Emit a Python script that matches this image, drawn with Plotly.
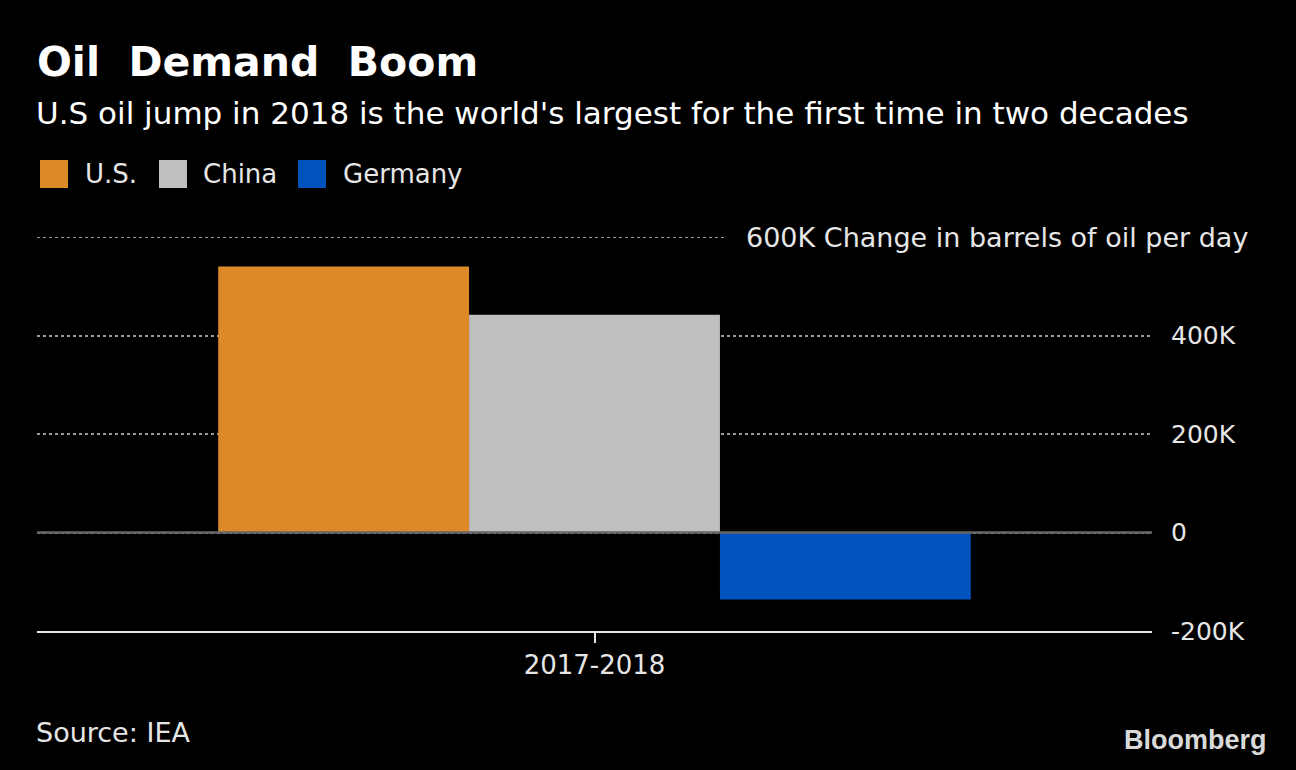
import plotly.graph_objects as go

# ---- data ----
categories = ["2017-2018"]
series_names = ["U.S.", "China", "Germany"]
series_values = [[540000], [442000], [-136000]]
series_colors = ["#dc8a27", "#bfbfbf", "#0052bd"]
tick_vals = [-200000, 0, 200000, 400000]
tick_text = ["-200K", "0", "200K", "400K"]
top_tick_label = "600K Change in barrels of oil per day"
title = "Oil Demand Boom"
subtitle = "U.S oil jump in 2018 is the world's largest for the first time in two decades"
source = "Source: IEA"

W, H = 1296, 770
ML, MR, MT, MB = 37, 144, 237, 139
PW = W - ML - MR
PH = H - MT - MB


def px(x):
    return (x - ML) / PW


def py(y):
    return (H - MB - y) / PH


FONT = "DejaVu Sans"
TXT = "#e6e6e6"
GRID = "#9a9a9a"

fig = go.Figure()
for name, vals, col in zip(series_names, series_values, series_colors):
    fig.add_trace(go.Bar(x=categories, y=vals, name=name, marker=dict(color=col, line=dict(width=0)),
                         showlegend=False))

annotations = [
    dict(text=f"<b>{title.replace(' ', '&nbsp; ')}</b>", x=px(35), y=py(62), xref="paper", yref="paper",
         xanchor="left", yanchor="middle", showarrow=False, font=dict(family=FONT, size=41, color="white")),
    dict(text=subtitle, x=px(34), y=py(113), xref="paper", yref="paper", xanchor="left",
         yanchor="middle", showarrow=False, font=dict(family=FONT, size=31, color="white")),
    dict(text=source, x=px(34), y=py(732), xref="paper", yref="paper", xanchor="left",
         yanchor="middle", showarrow=False, font=dict(family=FONT, size=27, color=TXT)),
    dict(text="<b>Bloomberg</b>", x=px(1269), y=py(740), xref="paper", yref="paper", xanchor="right",
         yanchor="middle", showarrow=False, font=dict(family="Liberation Sans", size=27, color="#d9d9d9")),
    dict(text=top_tick_label, x=px(1250), y=600000, xref="paper", yref="y", xanchor="right",
         yanchor="middle", showarrow=False, font=dict(family=FONT, size=27, color=TXT)),
]

shapes = []
# legend
leg_sq_x = [40, 159, 298]
leg_tx_x = [83, 201, 341]
for name, col, sx, tx in zip(series_names, series_colors, leg_sq_x, leg_tx_x):
    shapes.append(dict(type="rect", xref="paper", yref="paper", x0=px(sx), x1=px(sx + 28),
                       y0=py(160), y1=py(188), fillcolor=col, line=dict(width=0)))
    annotations.append(dict(text=name, x=px(tx), y=py(174), xref="paper", yref="paper", xanchor="left",
                            yanchor="middle", showarrow=False, font=dict(family=FONT, size=26, color=TXT)))

# top gridline (shortened)
shapes.append(dict(type="line", xref="paper", yref="y", x0=0, x1=px(725), y0=600000, y1=600000,
                   line=dict(color=GRID, width=2, dash="dot"), layer="below"))
# zero line above bars
shapes.append(dict(type="line", xref="paper", yref="y", x0=0, x1=1, y0=0, y1=0,
                   line=dict(color="#666666", width=2.5), layer="above"))

fig.update_layout(
    width=W, height=H,
    paper_bgcolor="black", plot_bgcolor="black",
    margin=dict(l=ML, r=MR, t=MT, b=MB),
    barmode="group", bargap=0.325, bargroupgap=0,
    annotations=annotations, shapes=shapes,
    showlegend=False,
    xaxis=dict(showgrid=False, showline=True, linecolor="#e6e6e6", linewidth=2,
               ticks="outside", ticklen=10, tickcolor="#e6e6e6", tickwidth=1.5,
               tickfont=dict(family=FONT, size=26, color=TXT), zeroline=False, fixedrange=True),
    yaxis=dict(side="right", range=[-200000, 600000], tickvals=tick_vals, ticktext=tick_text,
               showgrid=True, gridcolor=GRID, griddash="dot", gridwidth=2,
               zeroline=False, showline=False, ticks="", ticklabelstandoff=18,
               tickfont=dict(family=FONT, size=25, color=TXT), fixedrange=True),
)

fig.write_html(
    "out.html",
    config={"displayModeBar": False},
    post_script="document.body.style.margin='0';document.body.style.background='black';",
)
